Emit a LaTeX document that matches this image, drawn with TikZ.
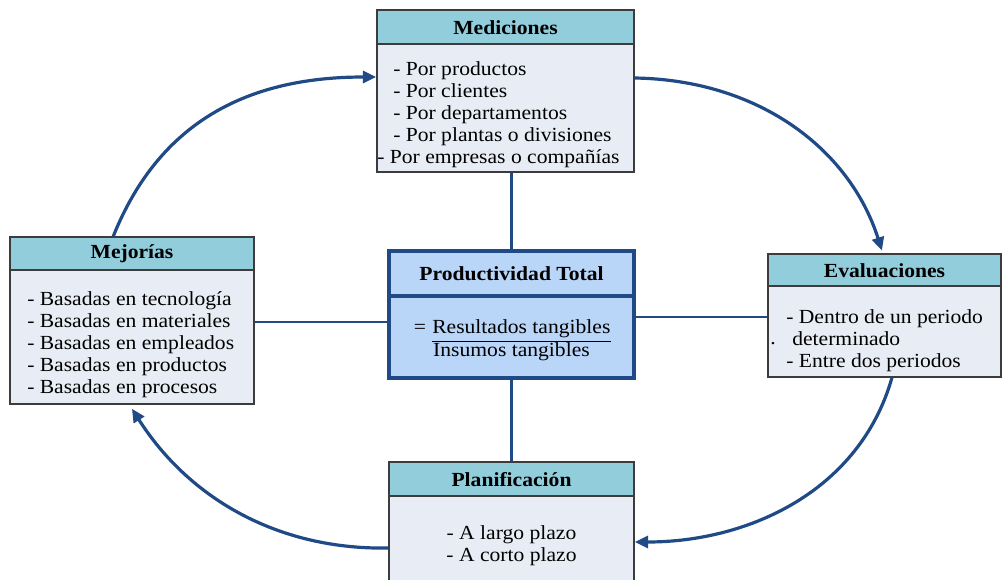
\documentclass[tikz,border=0pt]{standalone}
\usepackage{fontspec}
\setmainfont{Liberation Serif}[FakeStretch=1.08]
\usetikzlibrary{arrows.meta,fit,calc}
\definecolor{headfill}{HTML}{92CDDC}
\definecolor{bodyfill}{HTML}{E8EDF5}
\definecolor{corefill}{HTML}{B9D5F7}
\definecolor{navy}{HTML}{1F4A85}
\definecolor{edge}{HTML}{3C3C3C}
\tikzset{
  panel/.style={fit={#1}, inner sep=0pt, draw=edge, line width=1.1pt, fill=bodyfill},
  header/.style={fit={#1}, inner sep=0pt, draw=edge, line width=1.1pt, fill=headfill},
  core/.style={fit={#1}, inner sep=0pt, draw=navy, line width=2.4pt, fill=corefill},
  title/.style={font=\fontsize{15}{16.5}\selectfont\bfseries, inner sep=0pt},
  items/.style={font=\fontsize{15}{16.5}\selectfont, inner sep=0pt, align=left, anchor=west},
  plain/.style={font=\fontsize{15}{16.5}\selectfont, inner sep=0pt},
  link/.style={navy, line width=2.2pt},
  flow/.style={navy, line width=2.4pt, -{Triangle[length=10pt,width=9pt]}}
}
\begin{document}
\begin{tikzpicture}[x=0.75pt,y=-0.75pt]
\useasboundingbox (0,0) rectangle (1002,579);

% top panel: measurements
\node (med) [panel={(377,10) (634,172)}] {};
\node (medh) [header={(377,10) (634,44)}] {};
\node (medt) [title] at (505.5,28) {Mediciones};
\node (medl) [items] at (377,115) {\hspace*{12pt}- Por productos\\
\hspace*{12pt}- Por clientes\\
\hspace*{12pt}- Por departamentos\\
\hspace*{12pt}- Por plantas o divisiones\\
- Por empresas o compañías};

% left panel: improvements
\node (mej) [panel={(10,237) (254,404)}] {};
\node (mejh) [header={(10,237) (254,270)}] {};
\node (mejt) [title] at (132,254) {Mejorías};
\node (mejl) [items] at (27,345) {- Basadas en tecnología\\
- Basadas en materiales\\
- Basadas en empleados\\
- Basadas en productos\\
- Basadas en procesos};

% right panel: evaluations
\node (eva) [panel={(768,254) (1001,377)}] {};
\node (evah) [header={(768,254) (1001,286)}] {};
\node (evat) [title] at (884.5,271) {Evaluaciones};
\node (eval) [items] at (786,341) {- Dentro de un periodo\\
\hspace*{4.5pt}determinado\\
- Entre dos periodos};
\node (evadot) [plain, anchor=base] at (773,344) {.};

% bottom panel: planning
\node (pla) [panel={(389,462) (634,581)}] {};
\node (plah) [header={(389,462) (634,496)}] {};
\node (plat) [title] at (511.5,480) {Planificación};
\node (plal) [plain, align=center] at (511.5,546) {- A largo plazo\\- A corto plazo};

% centre panel: total productivity
\node (pt) [core={(389,251) (634,378)}] {};
\draw [navy, line width=2.4pt] (389,296) coordinate (ptdl) -- (634,296) coordinate (ptdr);
\node (ptt) [title] at (511.5,274) {Productividad Total};
\node (pteq) [plain] at (420,329) {=};
\node (ptnum) [plain, anchor=west] at (432,329) {Resultados tangibles};
\node (ptden) [plain] at (511.5,352) {Insumos tangibles};
\draw [black, line width=0.8pt] ([yshift=-2.5pt]ptnum.south west) -- ([yshift=-2.5pt]ptnum.south east);

% spokes from the centre panel
\draw [link] (pt.north) -- (pt.north |- med.south);
\draw [link] (pt.south) -- (pt.south |- pla.north);
\draw [link] (pt.west |- 0,322) -- (mej.east |- 0,322);
\draw [link] (pt.east |- 0,317) -- (eva.west |- 0,317);

% cycle of curved arrows
\draw [flow] ([xshift=78pt]mej.north west) .. controls (160,120) and (250,77) .. (med.west |- 0,77);
\draw [flow] (med.east |- 0,78) .. controls (760,80) and (850,150) .. ([xshift=86pt,yshift=2pt]eva.north west);
\draw [flow] ([xshift=93.5pt]eva.south west) .. controls (860,490) and (750,542) .. (pla.east |- 0,542);
\draw [flow] (pla.west |- 0,548) .. controls (280,550) and (190,500) .. ([xshift=92pt,yshift=-3pt]mej.south west);
\end{tikzpicture}
\end{document}
